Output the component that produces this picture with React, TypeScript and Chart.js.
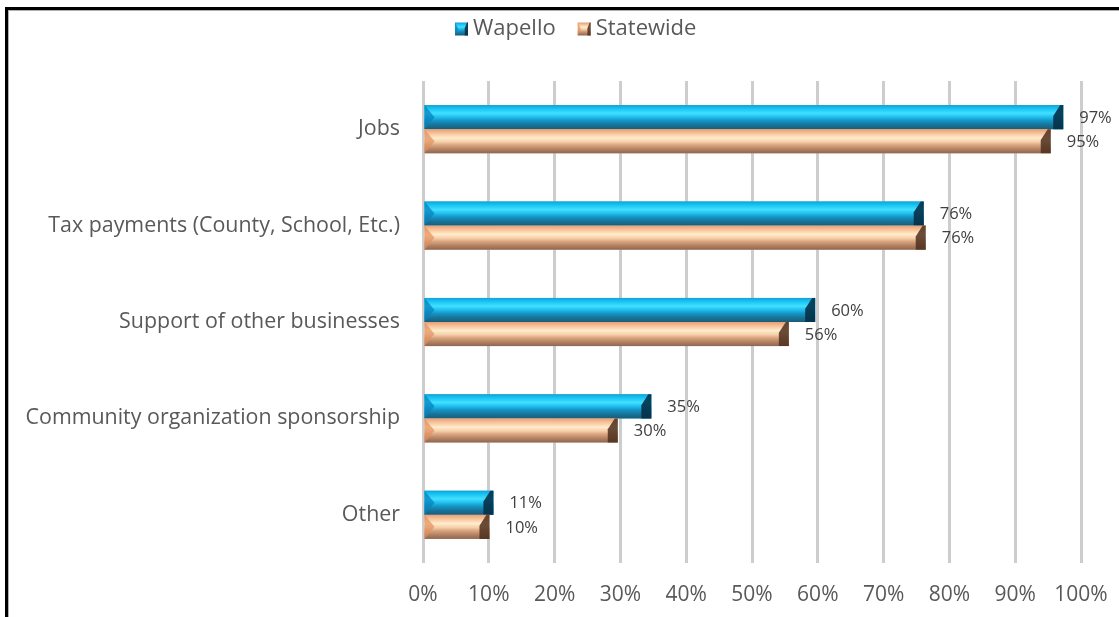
import React, { useEffect, useRef } from "react";
import { Chart, registerables } from "chart.js";
Chart.register(...registerables);

const categories = [
  "Jobs",
  "Tax payments (County, School, Etc.)",
  "Support of other businesses",
  "Community organization sponsorship",
  "Other",
];
const seriesNames = ["Wapello", "Statewide"];
const wapello = [97.3, 76.1, 59.6, 34.7, 10.7];
const statewide = [95.4, 76.4, 55.6, 29.6, 10.1];
const xMin = 0;
const xMax = 100;
const xStep = 10;

const FONT = "'Open Sans', sans-serif";

type Pal = { stops: [number, string][]; left: string; right: string };
const palettes: Pal[] = [
  {
    stops: [
      [0, "#1a9fd2"],
      [0.12, "#12c0f2"],
      [0.34, "#42e0ff"],
      [0.5, "#20bdee"],
      [0.64, "#1596c6"],
      [0.82, "#16749a"],
      [1, "#1d5b76"],
    ],
    left: "rgba(8,130,190,0.75)",
    right: "rgba(6,48,72,0.9)",
  },
  {
    stops: [
      [0, "#e2a07a"],
      [0.14, "#f7bc90"],
      [0.36, "#ffecce"],
      [0.52, "#f6d0aa"],
      [0.66, "#d9a47f"],
      [0.84, "#b08062"],
      [1, "#8d6650"],
    ],
    left: "rgba(226,142,92,0.7)",
    right: "rgba(78,48,30,0.85)",
  },
];

function drawBevelBar(ctx: CanvasRenderingContext2D, x0: number, x1: number, top: number, bottom: number, pal: Pal) {
  const h = bottom - top;
  const w = x1 - x0;
  if (w <= 0) return;
  const g = ctx.createLinearGradient(0, top, 0, bottom);
  pal.stops.forEach(([o, c]) => g.addColorStop(o, c));
  ctx.fillStyle = g;
  ctx.fillRect(x0, top, w, h);
  const b = Math.min(10, w / 4);
  const mid = (top + bottom) / 2;
  // left chevron
  ctx.fillStyle = pal.left;
  ctx.beginPath();
  ctx.moveTo(x0, top);
  ctx.lineTo(x0 + b, mid);
  ctx.lineTo(x0, bottom);
  ctx.closePath();
  ctx.fill();
  // right facet
  ctx.fillStyle = pal.right;
  ctx.beginPath();
  ctx.moveTo(x1, top);
  ctx.lineTo(x1 - b * 0.3, top);
  ctx.lineTo(x1 - b, top + h * 0.45);
  ctx.lineTo(x1 - b, bottom);
  ctx.lineTo(x1, bottom);
  ctx.closePath();
  ctx.fill();
}

const bevelPlugin = {
  id: "bevelBars",
  afterDatasetsDraw(chart: any) {
    const ctx = chart.ctx as CanvasRenderingContext2D;
    ctx.save();
    chart.data.datasets.forEach((ds: any, di: number) => {
      const meta = chart.getDatasetMeta(di);
      meta.data.forEach((el: any, i: number) => {
        const p = el.getProps(["x", "y", "base", "height"], true);
        const top = p.y - p.height / 2;
        const bottom = p.y + p.height / 2;
        drawBevelBar(ctx, Math.min(p.base, p.x), Math.max(p.base, p.x), top, bottom, palettes[di]);
        // data label
        ctx.fillStyle = "#404040";
        ctx.font = `16.5px ${FONT}`;
        ctx.textAlign = "left";
        ctx.textBaseline = "middle";
        ctx.fillText(Math.round(ds.data[i]) + "%", p.x + 16, p.y + 1);
      });
    });
    ctx.restore();
  },
  afterDraw(chart: any) {
    // legend
    const ctx = chart.ctx as CanvasRenderingContext2D;
    ctx.save();
    ctx.font = `22px ${FONT}`;
    ctx.textBaseline = "middle";
    ctx.textAlign = "left";
    let x = 455;
    const cy = 29;
    chart.data.datasets.forEach((ds: any, di: number) => {
      drawBevelBar(ctx, x, x + 13, cy - 6.5, cy + 6.5, palettes[di]);
      x += 18;
      ctx.fillStyle = "#595959";
      ctx.fillText(ds.label, x, cy);
      x += ctx.measureText(ds.label).width + 22;
    });
    ctx.restore();
  },
};

export default function App() {
  const ref = useRef<HTMLCanvasElement>(null);
  useEffect(() => {
    if (!ref.current) return;
    const chart = new Chart(ref.current, {
      type: "bar",
      data: {
        labels: categories,
        datasets: [
          { label: seriesNames[0], data: wapello, backgroundColor: "#1fb7e6", borderWidth: 0 },
          { label: seriesNames[1], data: statewide, backgroundColor: "#f2c29a", borderWidth: 0 },
        ],
      },
      options: {
        indexAxis: "y",
        responsive: false,
        animation: false,
        layout: { padding: { top: 81, right: 38, bottom: 0, left: 0 } },
        datasets: { bar: { categoryPercentage: 0.5, barPercentage: 1 } },
        plugins: { legend: { display: false }, tooltip: { enabled: false } },
        scales: {
          x: {
            min: xMin,
            max: xMax,
            ticks: {
              stepSize: xStep,
              callback: (v: any) => v + "%",
              color: "#595959",
              font: { family: FONT, size: 21 },
              padding: 19,
            },
            grid: { color: "#cdcdcd", lineWidth: 3, drawTicks: false },
            border: { display: false },
            afterFit: (s: any) => {
              s.height = 54;
              s.paddingLeft = 0;
              s.paddingRight = 0;
            },
          },
          y: {
            ticks: { color: "#595959", font: { family: FONT, size: 21.4 }, padding: 23 },
            grid: { display: false, drawTicks: false },
            border: { display: false },
            afterFit: (s: any) => {
              s.width = 423;
              s.paddingTop = 0;
              s.paddingBottom = 0;
            },
          },
        },
      } as any,
      plugins: [bevelPlugin],
    });
    return () => chart.destroy();
  }, []);
  return (
    <div style={{ position: "absolute", left: 0, top: 0, width: 1119, height: 617, overflow: "hidden", background: "#fff" }}>
      <div
        style={{
          position: "absolute",
          left: 5,
          top: 7,
          width: 1200,
          height: 700,
          borderLeft: "3px solid #000",
          borderTop: "3px solid #000",
          boxShadow: "inset 1px 1px 0 #b0b0b0",
        }}
      />
      <canvas ref={ref} width={1119} height={617} style={{ position: "absolute", left: 0, top: 0 }} />
    </div>
  );
}
